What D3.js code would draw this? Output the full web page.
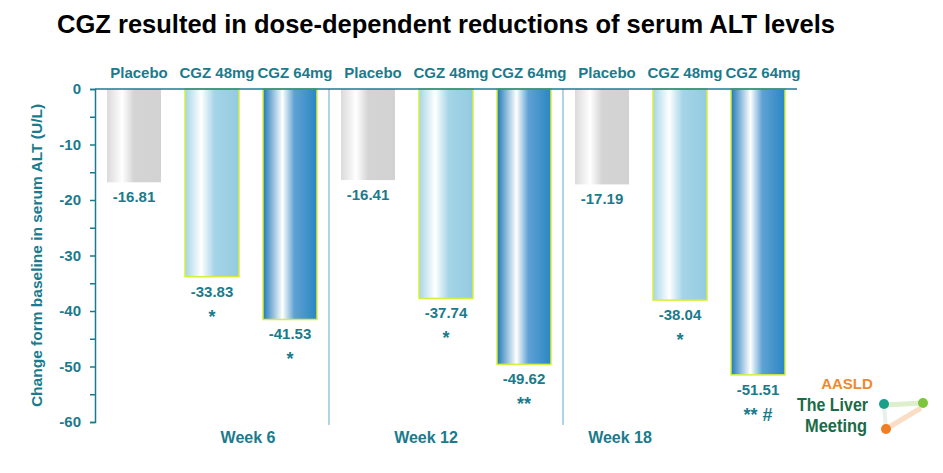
<!DOCTYPE html>
<html><head><meta charset="utf-8">
<script src="https://cdn.jsdelivr.net/npm/d3@7"></script>
<style>
body{margin:0;background:#fff;}
text{font-family:"Liberation Sans",Arial,sans-serif;font-weight:bold;}
</style></head>
<body><svg id="c" width="943" height="473"></svg>
<script>
const weeks = ["Week 6","Week 12","Week 18"];
const groups = ["Placebo","CGZ 48mg","CGZ 64mg"];
const values = {
  "Week 6":  [-16.81, -33.83, -41.53],
  "Week 12": [-16.41, -37.74, -49.62],
  "Week 18": [-17.19, -38.04, -51.51]
};
const sigMarks = {
  "Week 6":  ["", "*", "*"],
  "Week 12": ["", "*", "**"],
  "Week 18": ["", "*", "** #"]
};
const yTicks = [0,-5,-10,-15,-20,-25,-30,-35,-40,-45,-50,-55,-60];

const teal = "#1a7b8c";
const svg = d3.select("#c");

const x0 = d3.scaleBand().domain(weeks).range([95, 797]).padding(0);
const x1 = d3.scaleBand().domain(groups).range([0, x0.bandwidth()]).paddingInner(0.3077).paddingOuter(0.1538);
const y = d3.scaleLinear().domain([-60, 0]).range([422, 89]);

// gradients
const defs = svg.append("defs");
const grads = {
  "Placebo": [[0,"#dadada"],[0.28,"#ffffff"],[0.5,"#d4d4d4"],[1,"#d2d2d2"]],
  "CGZ 48mg": [[0,"#a6d5e6"],[0.3,"#ffffff"],[0.55,"#a4d4e7"],[1,"#94cbe1"]],
  "CGZ 64mg": [[0,"#1f78b8"],[0.36,"#ffffff"],[0.58,"#5fa1d4"],[1,"#2a86c3"]]
};
groups.forEach((g,i)=>{
  const lg = defs.append("linearGradient").attr("id","g"+i).attr("x1","0").attr("x2","1").attr("y1","0").attr("y2","0");
  grads[g].forEach(s=>lg.append("stop").attr("offset",s[0]).attr("stop-color",s[1]));
});

// title
svg.append("text").attr("x",446).attr("y",33).attr("text-anchor","middle")
  .attr("font-size",25.5).attr("fill","#000")
  .text("CGZ resulted in dose-dependent reductions of serum ALT levels");

// separators
svg.selectAll(".sep").data(weeks.slice(1)).enter().append("line")
  .attr("x1",d=>x0(d)).attr("x2",d=>x0(d)).attr("y1",y(0)).attr("y2",425)
  .attr("stroke","#7fb6d0").attr("stroke-width",1.2);

// bars
weeks.forEach(w=>{
  const g = svg.append("g").attr("transform",`translate(${x0(w)},0)`);
  groups.forEach((grp,i)=>{
    const v = values[w][i];
    const bx = x1(grp), bw = x1.bandwidth();
    g.append("rect").attr("x",bx).attr("y",y(0)).attr("width",bw).attr("height",y(v)-y(0))
      .attr("fill",`url(#g${i})`)
      .attr("stroke", i===0 ? "none" : "#d6ef3a").attr("stroke-width",1.5);
    g.append("text").attr("x",bx+bw/2).attr("y",y(v)+20).attr("text-anchor","middle")
      .attr("font-size",15).attr("fill",teal).text(v.toFixed(2));
    if (sigMarks[w][i]) {
      g.append("text").attr("x",bx+bw/2).attr("y",y(v)+46).attr("text-anchor","middle")
        .attr("font-size",18).attr("fill",teal).attr("xml:space","preserve").text(sigMarks[w][i]);
    }
    g.append("text").attr("x",bx+bw/2+5).attr("y",78).attr("text-anchor","middle")
      .attr("font-size",15).attr("fill",teal).text(grp);
  });
});

// y axis
const ax = svg.append("g").attr("transform","translate(95,0)")
  .call(d3.axisLeft(y).tickValues(yTicks).tickSize(5).tickPadding(9)
    .tickFormat(d=> d%10===0 ? String(d) : ""));
ax.select(".domain").attr("stroke",teal).attr("stroke-width",1.5);
ax.selectAll(".tick line").attr("stroke",teal).attr("stroke-width",1.5);
ax.selectAll(".tick text").attr("font-size",15).attr("fill",teal)
  .attr("font-family","Liberation Sans, Arial, sans-serif").attr("font-weight","bold");

// zero line (top)
svg.append("line").attr("x1",95).attr("x2",797).attr("y1",y(0)).attr("y2",y(0))
  .attr("stroke",teal).attr("stroke-width",1.5);

// y title
svg.append("text").attr("transform",`translate(42,${(y(0)+y(-60))/2}) rotate(-90)`)
  .attr("text-anchor","middle").attr("font-size",15.5).attr("fill",teal)
  .text("Change form baseline in serum ALT (U/L)");

// week labels
const weekOffsets = [153, 97, 57];
weeks.forEach((w,i)=>{
  svg.append("text").attr("x",x0(w)+weekOffsets[i]).attr("y",443).attr("text-anchor","middle")
    .attr("font-size",16).attr("fill",teal).text(w);
});

// logo
const logo = svg.append("g");
logo.append("text").attr("x",847).attr("y",389).attr("text-anchor","middle")
  .attr("font-size",15).attr("font-weight","normal").attr("fill","#f0892e").text("AASLD");
logo.append("text").attr("x",797).attr("y",411)
  .attr("font-size",19).attr("fill","#1a6b47").attr("textLength",71).attr("lengthAdjust","spacingAndGlyphs").text("The Liver");
logo.append("text").attr("x",805).attr("y",432)
  .attr("font-size",19).attr("fill","#1a6b47").attr("textLength",62).attr("lengthAdjust","spacingAndGlyphs").text("Meeting");
logo.append("path").attr("d","M884,405 L923,403").attr("stroke","#cfe9b8").attr("stroke-width",5).attr("opacity",0.7);
logo.append("path").attr("d","M886,429 L921,408").attr("stroke","#f6c7a0").attr("stroke-width",5).attr("opacity",0.6);
logo.append("path").attr("d","M884,405 L886,429").attr("stroke","#d8e8e0").attr("stroke-width",4).attr("opacity",0.6);
logo.append("circle").attr("cx",884).attr("cy",404).attr("r",5).attr("fill","#1aa08a");
logo.append("circle").attr("cx",923).attr("cy",403).attr("r",5).attr("fill","#7cc53d");
logo.append("circle").attr("cx",886).attr("cy",429).attr("r",5).attr("fill","#f07d22");
</script></body></html>
